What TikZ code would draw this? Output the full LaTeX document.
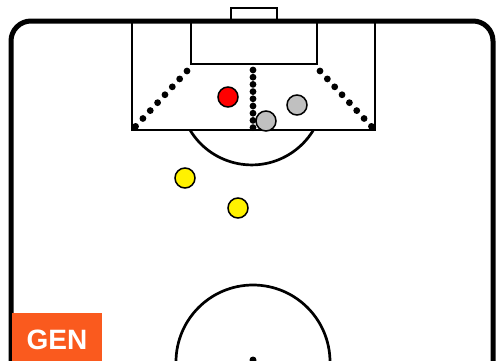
\documentclass[tikz,border=0pt]{standalone}
\usepackage{fontspec}
\setmainfont{Liberation Sans}
\definecolor{genorange}{HTML}{FA5A1E}
\definecolor{playergray}{HTML}{C0C0C0}
\tikzset{
  fieldline/.style={draw=black, line width=2.7pt},
  dotline/.style={line width=6.8pt, line cap=round, dash pattern=on 0pt off #1},
  player/.style={circle, draw=black, line width=1.5pt, minimum size=20pt, inner sep=0pt},
}
\begin{document}
\begin{tikzpicture}[x=1pt,y=-1pt]
\useasboundingbox (0,0) rectangle (496,360);
\clip (0,0) rectangle (496,360);
% pitch outline
\draw[line width=5pt, rounded corners=20pt] (11,21) rectangle (493,460);
% goal
\draw[line width=1.5pt] (231,20) -- (231,8) -- (277,8) -- (277,20);
% penalty area, goal area and arc
\draw[fieldline] (132,21) rectangle (375,130);
\draw[fieldline] (191,21) rectangle (317,64);
\draw[fieldline] (190,130) arc[start angle=149, end angle=31, radius=72];
% zones
\draw[dotline=10.8pt] (187,71) -- (135,127);
\draw[dotline=7.2pt] (253,70) -- (253,128);
\draw[dotline=10.8pt] (320,71) -- (372,127);
% centre circle and spot
\draw[fieldline] (253,362) circle[radius=77];
\fill (253,360) circle[radius=3.5];
% players
\node[player, fill=red] (keeper) at (228,97) {};
\node[player, fill=playergray] (grayA) at (297,105) {};
\node[player, fill=playergray] (grayB) at (266,121) {};
\node[player, fill=yellow] (yellowA) at (185,178) {};
\node[player, fill=yellow] (yellowB) at (238,208) {};
% label
\fill[genorange] (12,313) rectangle (102,362);
\node[text=white, font=\bfseries\fontsize{28}{30}\selectfont] (gen) at (57,340) {GEN};
\end{tikzpicture}
\end{document}
